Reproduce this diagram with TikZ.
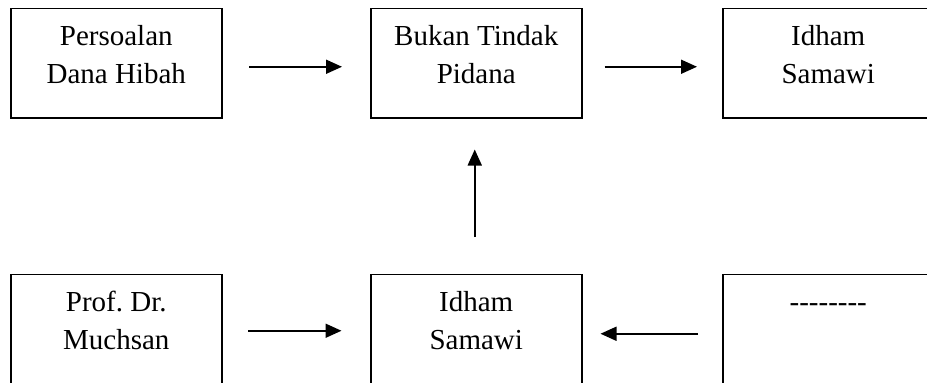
\documentclass[tikz,border=0pt]{standalone}
\usepackage{fontspec}
\setmainfont{Liberation Serif}
\usetikzlibrary{arrows.meta}
\frenchspacing

\begin{document}
\begin{tikzpicture}[x=1pt,y=-1pt,
  box/.style={draw=black, line width=1.5pt, rectangle, inner sep=0pt,
              minimum width=211pt, anchor=north west},
  toprow/.style={box, minimum height=109.5pt},
  botrow/.style={box, minimum height=112pt},
  lbl/.style={anchor=base, inner sep=0pt,
              font=\fontsize{29}{38}\selectfont},
  arr/.style={line width=1.7pt, -{Triangle[length=16pt,width=14pt]}}
]
  % canvas and frame
  \fill[white] (0,0) rectangle (927,383);
  \clip (0,0) rectangle (927,383);

  % top row
  \node[toprow] (b1) at (10,7.5) {};
  \node[toprow] (b2) at (370,7.5) {};
  \node[toprow] (b3) at (722,7.5) {};
  % bottom row
  \node[botrow] (b4) at (10,273.5) {};
  \node[botrow] (b5) at (370,273.5) {};
  \node[botrow] (b6) at (722,273.5) {};

  % box texts
  \node[lbl] (t1) at ([yshift=-37.5pt]b1.north) {\begin{tabular}[t]{@{}c@{}}Persoalan\\Dana Hibah\end{tabular}};
  \node[lbl] (t2) at ([yshift=-37.5pt]b2.north) {\begin{tabular}[t]{@{}c@{}}Bukan Tindak\\Pidana\end{tabular}};
  \node[lbl] (t3) at ([yshift=-37.5pt]b3.north) {\begin{tabular}[t]{@{}c@{}}Idham\\Samawi\end{tabular}};
  \node[lbl] (t4) at ([yshift=-37.5pt]b4.north) {\begin{tabular}[t]{@{}c@{}}Prof. Dr.\\Muchsan\end{tabular}};
  \node[lbl] (t5) at ([yshift=-37.5pt]b5.north) {\begin{tabular}[t]{@{}c@{}}Idham\\Samawi\end{tabular}};
  \node[lbl] (t6) at ([yshift=-37.5pt]b6.north) {\begin{tabular}[t]{@{}c@{}}-{}-{}-{}-{}-{}-{}-{}-\end{tabular}};

  % connectors
  \draw[arr, shorten <=26.5pt, shorten >=28pt]
    ([yshift=-3.75pt]b1.east) -- ([yshift=-3.75pt]b2.west);
  \draw[arr, shorten <=22pt, shorten >=25pt]
    ([yshift=-3.75pt]b2.east) -- ([yshift=-3.75pt]b3.west);
  \draw[arr, shorten <=25.5pt, shorten >=28.5pt]
    ([yshift=-0.5pt]b4.east) -- ([yshift=-0.5pt]b5.west);
  \draw[arr, shorten <=24pt, shorten >=18pt]
    ([yshift=-3.5pt]b6.west) -- ([yshift=-3.5pt]b5.east);
  \draw[arr, shorten <=36.5pt, shorten >=31pt]
    ([xshift=-1.5pt]b5.north) -- ([xshift=-1.5pt]b2.south);
\end{tikzpicture}
\end{document}
